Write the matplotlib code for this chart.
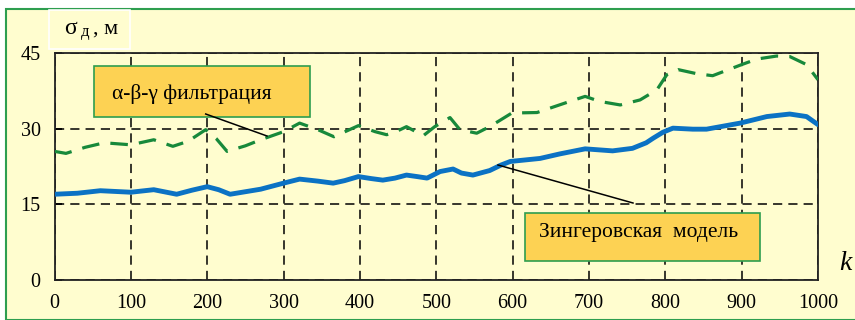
import matplotlib
matplotlib.use("Agg")
import matplotlib.pyplot as plt
from matplotlib.patches import Rectangle
from matplotlib.lines import Line2D

plt.rcParams['font.family'] = ['Liberation Serif', 'DejaVu Serif']

# Зингеровская модель (blue solid)
k_zing = [0, 30, 60, 100, 130, 160, 180, 200, 215, 230, 270, 300, 321, 345, 365, 380, 398, 415, 430, 446, 461,
          475, 488, 505, 522, 533, 548, 570, 585, 597, 636, 662, 695, 731, 757, 775, 784, 797, 810, 836, 854,
          898, 933, 963, 985, 1000]
s_zing = [17.0, 17.2, 17.7, 17.4, 17.9, 17.0, 17.8, 18.5, 17.9, 17.0, 18.0, 19.2, 20.0, 19.6, 19.2, 19.7, 20.5, 20.1, 19.8, 20.2, 20.8,
          20.5, 20.2, 21.5, 22.0, 21.2, 20.8, 21.7, 22.8, 23.5, 24.1, 25.0, 26.0, 25.6, 26.1, 27.2, 28.1, 29.3, 30.1, 29.9, 29.9,
          31.1, 32.4, 32.9, 32.4, 30.8]

# alpha-beta-gamma filtration (green dashed)
k_abg = [0, 15, 40, 65, 100, 130, 155, 175, 198, 212, 226, 250, 270, 300, 321, 345, 366,
         398, 420, 435, 450, 461, 483, 498, 518, 531, 553, 570, 599, 632, 671, 695, 714,
         741, 767, 789, 802, 817, 841, 862, 900, 920, 946, 963, 985, 1000]
s_abg = [25.5, 25.1, 26.3, 27.2, 26.8, 27.8, 26.5, 27.5, 29.8, 28.0, 25.5, 26.6, 27.8, 29.4, 31.1, 29.8, 28.4,
         30.6, 29.4, 28.8, 29.6, 30.4, 28.6, 30.4, 32.2, 29.8, 29.1, 30.4, 33.1, 33.2, 35.2, 36.4, 35.4,
         34.7, 35.7, 37.7, 40.7, 41.7, 40.9, 40.5, 42.7, 43.8, 44.4, 44.3, 42.7, 39.7]

x_ticks = [0, 100, 200, 300, 400, 500, 600, 700, 800, 900, 1000]
y_ticks = [0, 15, 30, 45]

W, H = 855, 320
bg = '#FFFDCF'
frame_green = '#2E9E4F'
box_fill = '#FDD253'


def fx(px):
    return px / W


def fy(py):
    return 1 - py / H


fig = plt.figure(figsize=(W / 100, H / 100), dpi=100)
fig.patch.set_facecolor('white')

# yellow panel with green frame
fig.patches.append(Rectangle((fx(6), 0), 1, fy(9), transform=fig.transFigure,
                             facecolor=bg, edgecolor=frame_green, linewidth=1.5, zorder=-10))

ax = fig.add_axes([fx(54.5), fy(280), fx(818) - fx(54.5), fy(53) - fy(280)])
ax.set_facecolor('none')

ax.plot(k_zing, s_zing, color='#0B72C4', linewidth=3.5, solid_capstyle='round',
        solid_joinstyle='round', zorder=3)
ax.plot(k_abg, s_abg, color='#17893B', linewidth=2.3, linestyle=(0, (5.5, 3.5)), zorder=3)

ax.set_xlim(0, 1000)
ax.set_ylim(0, 45)
ax.set_xticks(x_ticks)
ax.set_yticks(y_ticks)
ax.set_xticks([100, 400], minor=True)
ax.tick_params(axis='x', which='major', length=0, pad=10, labelsize=14.5)
ax.tick_params(axis='x', which='minor', length=8, width=1.1, direction='out', color='black')
ax.tick_params(axis='y', which='major', length=5, width=1.3, direction='in', pad=10, labelsize=14.5)

ax.grid(True, which='major', color='black', linestyle=(0, (6, 4)), linewidth=1.1)
for s in ax.spines.values():
    s.set_color('#222222')
    s.set_linewidth(1.3)

# axis caption box
fig.patches.append(Rectangle((fx(49), fy(49)), fx(130) - fx(49), fy(10) - fy(49),
                             transform=fig.transFigure, facecolor=bg, edgecolor='white',
                             linewidth=1.2, zorder=1))
fig.text(fx(64), fy(34), 'σ', fontsize=17, ha='left', va='baseline', zorder=2)
fig.text(fx(81), fy(36), 'д', fontsize=12, ha='left', va='baseline', zorder=2)
fig.text(fx(93), fy(34), ', м', fontsize=16, ha='left', va='baseline', zorder=2)

fig.text(fx(845), fy(263), 'k', fontsize=20, style='italic', ha='center', va='center')

# legend boxes
fig.patches.append(Rectangle((fx(94), fy(117)), fx(310) - fx(94), fy(66) - fy(117),
                             transform=fig.transFigure, facecolor=box_fill,
                             edgecolor=frame_green, linewidth=1.2, zorder=5))
fig.text(fx(192), fy(94), 'α-β-γ фильтрация', fontsize=15.5, ha='center', va='center', zorder=6)

fig.patches.append(Rectangle((fx(525), fy(261)), fx(760) - fx(525), fy(213) - fy(261),
                             transform=fig.transFigure, facecolor=box_fill,
                             edgecolor=frame_green, linewidth=1.2, zorder=5))
fig.text(fx(639), fy(233), 'Зингеровская  модель', fontsize=15.5, ha='center', va='center', zorder=6)

# leader lines
fig.lines.append(Line2D([fx(205.7), fx(267)], [fy(114), fy(136)], transform=fig.transFigure,
                        color='black', linewidth=1.1, zorder=6))
fig.lines.append(Line2D([fx(498), fx(633)], [fy(165), fy(203)], transform=fig.transFigure,
                        color='black', linewidth=1.1, zorder=6))

fig.savefig('out.png', dpi=100)
